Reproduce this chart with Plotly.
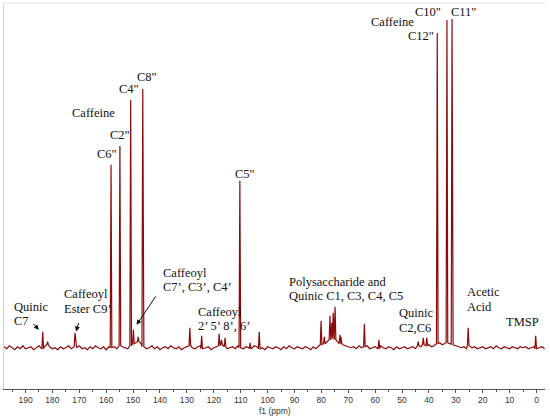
import plotly.graph_objects as go

# ---- data ----
# baseline noise at each integer ppm from 198 down to -3
baseline_ppm = list(range(198, -4, -1))
baseline_int = [
    1, -1, 2, 0, -2, 1, -1, 2, -1, 0,
    1, -2, 0, 2, -1, 1, 3, 1, -1, 0,
    -2, 1, -1, 0, 2, -1, 1, 0, 2, -1,
    0, -2, 1, -1, 2, 0, -1, 1, -2, 1,
    0, 1, -1, 2, 1, 0, -1, 2, 4, 5,
    6, 4, 1, -1, 0, 2, -1, 1, -2, 0,
    1, -1, 2, 0, -1, 1, -2, 0, 1, 2,
    0, -1, 1, 2, -1, 0, 1, -2, 0, 1,
    2, 3, 1, -1, 0, 1, -1, 2, 0, -1,
    1, 0, -1, 2, 1, -1, 0, -2, 1, 0,
    -1, 1, 0, -2, 1, -1, 2, 0, -1, 1,
    0, -1, 1, 0, -2, 1, -1, 2, 3, 4,
    6, 8, 9, 8, 6, 4, 3, 2, 1, 0,
    1, -1, 2, 0, 1, 2, -1, 0, 1, -1,
    2, 0, -1, 1, 0, -2, 1, -1, 0, 1,
    -1, 0, 1, -1, 2, 1, 3, 2, 3, 1,
    2, 4, 5, 3, 4, 5, 4, 3, 2, 1,
    0, 1, -1, 2, 0, 1, -1, 0, 1, -1,
    0, 1, -1, 2, 0, -1, 1, 0, -1, 1,
    0, -1, 1, 0, 1, -1, 0, 1, -1, 0,
    1, -1,
]

peak_ppm = [158.2, 154.9, 150.9, 146.4, 110.3, 36.9, 33.3, 31.4,
            183.6, 181.8, 171.6, 149.9, 148.1, 128.9, 124.5, 118.0, 117.1, 115.8,
            106.5, 103.1, 80.1, 78.9, 76.8, 76.1, 75.6, 74.9, 73.1, 72.7,
            64.0, 58.6, 44.0, 42.1, 40.8, 25.4, 0.3]
peak_int = [183, 202, 248, 259, 167, 315, 328, 329,
            16, 6, 15, 18, 11, 20, 12, 14, 8, 10,
            5, 16, 27, 11, 32, 25, 35, 41, 13, 11,
            24, 8, 6, 10, 10, 20, 12]
peak_halfwidth = 0.3

# ---- build the spectrum line from the lists ----
base_lookup = dict(zip(baseline_ppm, baseline_int))
pts = []
for p, v in zip(baseline_ppm, baseline_int):
    if all(abs(p - q) > peak_halfwidth for q in peak_ppm):
        pts.append((p, v))
for q, h in zip(peak_ppm, peak_int):
    b = base_lookup.get(round(q), 0)
    pts.append((q + peak_halfwidth, b))
    pts.append((q, h))
    pts.append((q - peak_halfwidth, b))
pts.sort(key=lambda t: -t[0])
xs = [t[0] for t in pts]
ys = [t[1] for t in pts]

fig = go.Figure()
fig.add_trace(go.Scatter(x=xs, y=ys, mode="lines",
                         line=dict(color="#8B0B0B", width=1.2),
                         hoverinfo="skip", showlegend=False))

serif = "Liberation Serif, Times New Roman, serif"
tf = dict(family=serif, size=12.5, color="#111111")

# centred labels (text, x ppm, y)
center_labels = [
    ('C8"', 144.7, 271.3), ('C4"', 151.4, 258.7), ("Caffeine", 164.8, 234.7),
    ('C2"', 154.9, 213.0), ('C6"', 159.8, 193.7), ('C5"', 108.4, 174.0),
    ('C10"', 40.5, 336.3), ('C11"', 27.2, 336.3), ("Caffeine", 53.6, 326.3),
    ('C12"', 43.1, 312.0), ("TMSP", 5.3, 25.3),
]
# left aligned lines (text, x ppm, y)
left_labels = [
    ("Quinic", 195.2, 40.3), ("C7", 195.2, 26.3),
    ("Caffeoyl", 176.6, 53.7), ("Ester C9’", 176.6, 38.7),
    ("Caffeoyl", 139.8, 74.7), ("C7’, C3’, C4’", 139.8, 60.7),
    ("Caffeoyl", 126.6, 36.0), ("2’ 5’ 8’, 6’", 126.6, 21.5),
    ("Polysaccharide and", 92.9, 65.3), ("Quinic C1, C3, C4, C5", 92.9, 51.3),
    ("Quinic", 52.0, 34.7), ("C2,C6", 52.0, 19.7),
    ("Acetic", 26.6, 55.3), ("Acid", 26.6, 40.7),
]
# arrows (tail x, tail y, head x, head y)
arrows = [
    (187.6, 25.3, 185.0, 18.0),
    (170.1, 26.3, 171.2, 16.3),
    (141.2, 53.0, 148.7, 23.0),
]

annotations = []
for t, x, y in center_labels:
    annotations.append(dict(text=t, x=x, y=y, xref="x", yref="y", showarrow=False,
                            xanchor="center", yanchor="middle", font=tf))
for t, x, y in left_labels:
    annotations.append(dict(text=t, x=x, y=y, xref="x", yref="y", showarrow=False,
                            xanchor="left", yanchor="middle", font=tf))
for tx, ty, hx, hy in arrows:
    annotations.append(dict(text="", x=hx, y=hy, ax=tx, ay=ty, xref="x", yref="y",
                            axref="x", ayref="y", showarrow=True, arrowhead=2,
                            arrowsize=1, arrowwidth=1, arrowcolor="#111111"))
annotations.append(dict(text="f1 (ppm)", x=0.5, y=-0.057, xref="paper", yref="paper",
                        showarrow=False, xanchor="center", yanchor="middle",
                        font=dict(family="Liberation Sans, Arial, sans-serif", size=8.5,
                                  color="#333333")))

tick_vals = list(range(0, 200, 10))

fig.update_layout(
    width=550, height=417,
    margin=dict(l=4, r=5, t=3, b=28),
    paper_bgcolor="white", plot_bgcolor="white",
    xaxis=dict(range=[198.0, -3.16], showgrid=False, zeroline=False,
               showline=True, linecolor="#555555", linewidth=1,
               ticks="outside", ticklen=3, tickwidth=1, tickcolor="#555555",
               tickvals=tick_vals, ticktext=[str(v) for v in tick_vals],
               tickfont=dict(family="Liberation Sans, Arial, sans-serif", size=8.5,
                             color="#333333"),
               minor=dict(tickvals=list(range(5, 200, 10)), ticks="outside",
                          ticklen=2, tickcolor="#555555")),
    yaxis=dict(range=[-41.3, 345], showgrid=False, zeroline=False,
               showticklabels=False, showline=True, linecolor="#d0d0d0",
               linewidth=1, ticks=""),
    annotations=annotations,
    shapes=[dict(type="line", xref="paper", yref="paper", x0=0, x1=1, y0=1, y1=1,
                 line=dict(color="#e3e3e3", width=1))],
)

fig.write_html("out.html", config={"displayModeBar": False},
               post_script="document.body.style.margin='0px';")
